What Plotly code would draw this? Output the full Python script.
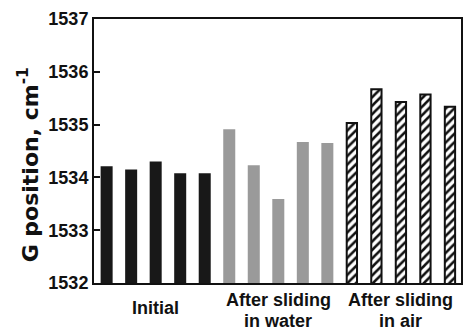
import plotly.graph_objects as go

initial = [1534.21, 1534.15, 1534.30, 1534.08, 1534.08]
water = [1534.91, 1534.23, 1533.59, 1534.67, 1534.65]
air = [1535.03, 1535.67, 1535.43, 1535.57, 1535.34]
group_labels = ["Initial", "After sliding<br>in water", "After sliding<br>in air"]
y_ticks = [1532, 1533, 1534, 1535, 1536, 1537]
y_title = "G position, cm<sup>-1</sup>"

FONT = "Liberation Sans"
x_init = list(range(0, 5))
x_water = list(range(5, 10))
x_air = list(range(10, 15))

fig = go.Figure()
fig.add_trace(go.Bar(x=x_init, y=initial, width=0.49, marker=dict(color="#181818", line=dict(width=0))))
fig.add_trace(go.Bar(x=x_water, y=water, width=0.49, marker=dict(color="#9a9a9a", line=dict(width=0))))
fig.add_trace(go.Bar(x=x_air, y=air, width=0.42,
                     marker=dict(color="white", line=dict(color="#111111", width=2),
                                 pattern=dict(shape="/", fgcolor="#111111", bgcolor="white",
                                              size=6, solidity=0.42, fillmode="replace"))))

fig.update_layout(
    width=464, height=329,
    margin=dict(l=94, r=1, t=19, b=46),
    paper_bgcolor="white", plot_bgcolor="white",
    showlegend=False,
    font=dict(family=FONT, color="#111111"),
    xaxis=dict(range=[-0.515, 14.45], showticklabels=False, ticks="", showgrid=False,
               zeroline=False, showline=True, linecolor="#111111", linewidth=2, mirror=True),
    yaxis=dict(range=[1532, 1537], tickvals=y_ticks, ticktext=[str(v) for v in y_ticks],
               ticks="inside", ticklen=6, tickwidth=2, tickcolor="#111111",
               showgrid=False, zeroline=False, showline=True, linecolor="#111111",
               linewidth=2, mirror=True,
               tickfont=dict(family=FONT, size=18, weight="bold")),
)

fig.add_annotation(x=-(94 - 28) / 369, y=(283 - 165) / 264, xref="paper", yref="paper",
                   text=y_title, textangle=-90, showarrow=False,
                   xanchor="center", yanchor="middle",
                   font=dict(family="DejaVu Sans", size=22, weight="bold"))

label_pos = [(2, [(group_labels[0], -0.093)]),
             (7, [("After sliding", -0.064), ("in water", -0.143)]),
             (12, [("After sliding", -0.064), ("in air", -0.143)])]
for xc, lines in label_pos:
    for txt, yp in lines:
        fig.add_annotation(x=xc, y=yp, xref="x", yref="paper", text=txt, showarrow=False,
                           yanchor="middle", font=dict(family=FONT, size=18, weight="bold"))

fig.write_html("out.html")
